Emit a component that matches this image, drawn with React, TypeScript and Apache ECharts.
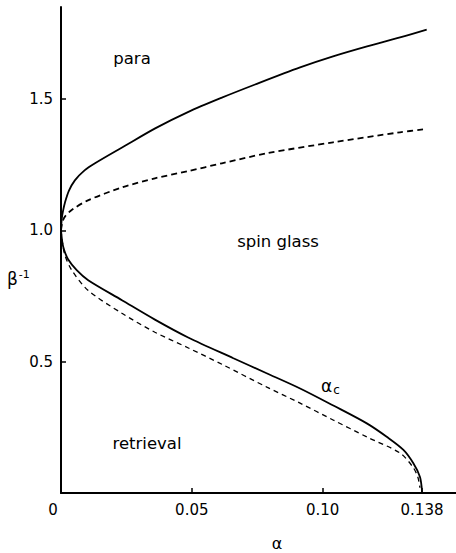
import React, { useEffect, useRef } from "react";
import * as echarts from "echarts";

// Phase diagram of the Hopfield model (alpha vs 1/beta)
const upperSolid: [number, number][] = [
  [0, 1.0], [0.0003, 1.045], [0.0008, 1.075], [0.0015, 1.105], [0.003, 1.15],
  [0.0053, 1.19], [0.009, 1.228], [0.013, 1.255], [0.0235, 1.316], [0.036, 1.388],
  [0.0485, 1.45], [0.0615, 1.505], [0.0742, 1.555], [0.0914, 1.62], [0.104, 1.662],
  [0.117, 1.7], [0.1296, 1.734], [0.1398, 1.764],
];
const upperDashed: [number, number][] = [
  [0, 1.0], [0.0005, 1.03], [0.0015, 1.052], [0.0042, 1.078], [0.0103, 1.114],
  [0.0233, 1.163], [0.0359, 1.198], [0.0485, 1.225], [0.0615, 1.255], [0.0787, 1.293],
  [0.104, 1.335], [0.1296, 1.373], [0.1384, 1.384],
];
const lowerSolid: [number, number][] = [
  [0, 1.0], [0.0005, 0.955], [0.0012, 0.925], [0.0027, 0.89], [0.006, 0.848],
  [0.0104, 0.81], [0.0233, 0.734], [0.0359, 0.66], [0.0486, 0.592], [0.0659, 0.513],
  [0.0786, 0.456], [0.0914, 0.398], [0.1041, 0.333], [0.1169, 0.265], [0.1245, 0.214],
  [0.1309, 0.164], [0.1347, 0.113], [0.1372, 0.062], [0.1379, 0.02], [0.138, 0],
];
const lowerDashed: [number, number][] = [
  [0, 1.0], [0.0006, 0.95], [0.0015, 0.905], [0.004, 0.85], [0.0103, 0.772],
  [0.0233, 0.684], [0.0359, 0.612], [0.0485, 0.553], [0.0615, 0.49], [0.0787, 0.403],
  [0.0914, 0.342], [0.104, 0.278], [0.117, 0.213], [0.1296, 0.152], [0.1345, 0.099],
  [0.1364, 0.061], [0.1372, 0.02],
];

const xTickValues = [0.05, 0.1, 0.138];
const xTickLabels = ["0.05", "0.10", "0.138"];
const yTickValues = [0.5, 1.0, 1.5];
const yTickLabels = ["0.5", "1.0", "1.5"];
const regionLabels = ["para", "spin glass", "retrieval"];

const FONT = "DejaVu Sans";

export default function App() {
  const ref = useRef<HTMLDivElement>(null);
  useEffect(() => {
    if (!ref.current) return;
    const chart = echarts.init(ref.current, undefined, { renderer: "svg" });
    const lineBase = { type: "line", showSymbol: false, smooth: 0.3, silent: true };
    const txt = (text: string, x: number, y: number) => ({
      type: "text", x, y,
      style: { text, fill: "#000", font: `16.5px "${FONT}"`, align: "center", verticalAlign: "middle" },
    });
    chart.setOption({
      animation: false,
      backgroundColor: "#fff",
      grid: { left: 61, right: 0, top: 7, bottom: 60, outerBoundsMode: "none", containLabel: false },
      xAxis: {
        type: "value",
        min: 0,
        max: 0.151,
        splitLine: { show: false },
        axisLine: { lineStyle: { color: "#000", width: 2 } },
        axisTick: { inside: true, length: 5, customValues: xTickValues, lineStyle: { color: "#000", width: 1.5 } },
        axisLabel: {
          customValues: [0, ...xTickValues],
          color: "#000",
          fontFamily: FONT,
          fontSize: 15,
          margin: 9,
          formatter: (v: number) => {
            if (v === 0) return "{z|0}";
            const i = xTickValues.indexOf(v);
            return i >= 0 ? xTickLabels[i] : "";
          },
          rich: { z: { fontFamily: FONT, fontSize: 15, color: "#000", padding: [0, 16, 0, 0] } },
        },
      },
      yAxis: {
        type: "value",
        min: 0,
        max: 1.85,
        splitLine: { show: false },
        axisLine: { lineStyle: { color: "#000", width: 2 } },
        axisTick: { inside: true, length: 5, customValues: yTickValues, lineStyle: { color: "#000", width: 1.5 } },
        axisLabel: {
          customValues: yTickValues,
          color: "#000",
          fontFamily: FONT,
          fontSize: 15,
          margin: 8,
          formatter: (v: number) => {
            const i = yTickValues.indexOf(v);
            return i >= 0 ? yTickLabels[i] : "";
          },
        },
      },
      series: [
        { ...lineBase, data: upperSolid, lineStyle: { color: "#000", width: 1.8, type: "solid" } },
        { ...lineBase, data: upperDashed, lineStyle: { color: "#000", width: 1.8, type: [6, 4] } },
        { ...lineBase, data: lowerSolid, lineStyle: { color: "#000", width: 1.8, type: "solid" } },
        { ...lineBase, data: lowerDashed, lineStyle: { color: "#000", width: 1.3, type: [5, 4] } },
      ],
      graphic: [
        txt(regionLabels[0], 132, 58),
        txt(regionLabels[1], 278, 241),
        txt(regionLabels[2], 147, 443),
        {
          type: "text", x: 321, y: 386,
          style: {
            text: "{a|α}{c|c}",
            fill: "#000",
            verticalAlign: "middle",
            rich: {
              a: { fontFamily: FONT, fontSize: 17, fill: "#000" },
              c: { fontFamily: FONT, fontSize: 12, fill: "#000", padding: [8, 0, 0, 1] },
            },
          },
        },
        {
          type: "text", x: 7, y: 279,
          style: {
            text: "{b|β}{s|-1}",
            fill: "#000",
            verticalAlign: "middle",
            rich: {
              b: { fontFamily: FONT, fontSize: 17, fill: "#000" },
              s: { fontFamily: FONT, fontSize: 11, fill: "#000", padding: [0, 0, 9, 1] },
            },
          },
        },
        {
          type: "text", x: 277, y: 543,
          style: { text: "α", fill: "#000", font: `16px "${FONT}"`, align: "center", verticalAlign: "middle" },
        },
      ],
    });
    return () => chart.dispose();
  }, []);
  return <div ref={ref} style={{ width: 456, height: 553, position: "absolute", left: 0, top: 0 }} />;
}
